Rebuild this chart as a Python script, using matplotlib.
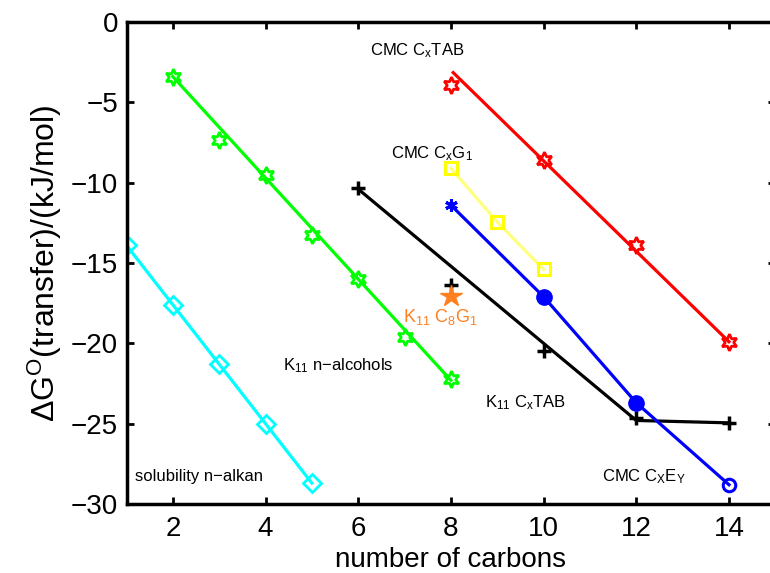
"""Free energy of transfer vs. number of carbons for several surfactant series."""

import matplotlib

matplotlib.use("Agg")
import matplotlib.pyplot as plt

plt.rcParams["font.family"] = ["Liberation Sans", "DejaVu Sans"]
plt.rcParams["mathtext.fontset"] = "custom"
plt.rcParams["mathtext.rm"] = "Liberation Sans"
plt.rcParams["mathtext.it"] = "Liberation Sans"

# solubility n-alkanes
alkan_c = [1, 2, 3, 4, 5]
alkan_g = [-13.9, -17.6, -21.3, -25.0, -28.7]

# K11 n-alcohols (markers + fitted line)
alc_c = [2, 3, 4, 5, 6, 7, 8]
alc_g = [-3.4, -7.35, -9.5, -13.25, -16.0, -19.6, -22.2]
alc_fit_c = [2, 8]
alc_fit_g = [-3.4, -22.3]

# K11 CxTAB
k11tab_c = [6, 8, 10, 12, 14]
k11tab_g = [-10.35, -16.4, -20.5, -24.65, -24.95]
k11tab_fit_c = [6, 12, 14]
k11tab_fit_g = [-10.4, -24.8, -24.95]

# CMC CxTAB
cmctab_c = [8, 10, 12, 14]
cmctab_g = [-3.9, -8.6, -13.9, -19.9]
cmctab_fit_c = [8.05, 14]
cmctab_fit_g = [-3.15, -19.9]

# CMC CxG1
cmcg_c = [8, 9, 10]
cmcg_g = [-9.1, -12.45, -15.4]

# CMC CxEY
cmce_c = [8, 10, 12, 14]
cmce_g = [-11.4, -17.1, -23.7, -28.8]

# K11 C8G1
k11g_c = [8]
k11g_g = [-17.05]

hexagram = (6, 1, 0)
asterisk = (6, 2, 0)


def main():
    fig = plt.figure(figsize=(7.7, 5.73), dpi=100)
    ax = fig.add_axes([126.5 / 770, 69 / 573, (775.3 - 126.5) / 770, 482 / 573])
    lw = 2.3

    # solubility n-alkan
    ax.plot(alkan_c, alkan_g, color="#00ffff", lw=lw, marker="D", ms=9.5,
            mfc="none", mew=2)

    # K11 n-alcohols
    ax.plot(alc_fit_c, alc_fit_g, color="#00ff00", lw=lw)
    ax.plot(alc_c, alc_g, ls="none", color="#00ff00", marker=hexagram, ms=12,
            mfc="none", mew=2)

    # K11 CxTAB
    ax.plot(k11tab_fit_c, k11tab_fit_g, color="black", lw=lw)
    ax.plot(k11tab_c, k11tab_g, ls="none", color="black", marker="+", ms=9.5,
            mew=2.5)

    # CMC CxTAB
    ax.plot(cmctab_fit_c, cmctab_fit_g, color="#ff0000", lw=lw)
    ax.plot(cmctab_c, cmctab_g, ls="none", color="#ff0000", marker=hexagram,
            ms=12, mfc="none", mew=2)

    # CMC CxG1
    ax.plot(cmcg_c, cmcg_g, color="#ffff80", lw=lw)
    ax.plot(cmcg_c, cmcg_g, ls="none", color="#ffff00", marker="s", ms=9,
            mfc="none", mew=2.2)

    # CMC CxEY
    ax.plot(cmce_c, cmce_g, color="#0000ff", lw=lw)
    ax.plot(cmce_c[:1], cmce_g[:1], ls="none", color="#0000ff", marker=asterisk,
            ms=9, mew=2.2)
    ax.plot(cmce_c[1:3], cmce_g[1:3], ls="none", color="#0000ff", marker="o",
            ms=11, mfc="#0000ff")
    ax.plot(cmce_c[3:], cmce_g[3:], ls="none", color="#0000ff", marker="o",
            ms=9, mfc="none", mew=2.2)

    # K11 C8G1
    ax.plot(k11g_c, k11g_g, ls="none", color="#ff8020", marker="*", ms=16,
            mec="#ff8020")

    # labels
    fs = 12
    ax.text(6.25, -2.05, "CMC C$_{\\mathrm{x}}$TAB", fontsize=fs)
    ax.text(6.71, -8.46, "CMC C$_{\\mathrm{x}}$G$_{1}$", fontsize=fs)
    ax.text(6.97, -18.67, "K$_{11}$ C$_{8}$G$_{1}$", fontsize=13,
            color="#ff8020")
    ax.text(4.38, -21.7, "K$_{11}$ n\u2212alcohols", fontsize=fs)
    ax.text(8.73, -24.0, "K$_{11}$ C$_{\\mathrm{x}}$TAB", fontsize=fs)
    ax.text(11.26, -28.6, "CMC C$_{\\mathrm{X}}$E$_{\\mathrm{Y}}$", fontsize=fs)
    ax.text(1.18, -28.55, "solubility n\u2212alkan", fontsize=fs)

    ax.set_xlim(1, 15)
    ax.set_ylim(-30, 0)
    ax.set_xticks([2, 4, 6, 8, 10, 12, 14])
    ax.set_yticks([0, -5, -10, -15, -20, -25, -30])
    ax.set_yticklabels(["0", "\u22125", "\u221210", "\u221215", "\u221220",
                        "\u221225", "\u221230"])
    ax.tick_params(direction="in", top=True, right=True, length=5, width=2,
                   labelsize=20, pad=6)
    ax.tick_params(axis="x", pad=9)
    for spine in ax.spines.values():
        spine.set_linewidth(2.5)

    ax.set_xlabel("number of carbons", fontsize=20, labelpad=3)
    ax.set_ylabel("\u0394G$^{\\mathrm{O}}$(transfer)/(kJ/mol)", fontsize=23,
                  labelpad=5)

    fig.savefig("out.png", dpi=100)


if __name__ == "__main__":
    main()
